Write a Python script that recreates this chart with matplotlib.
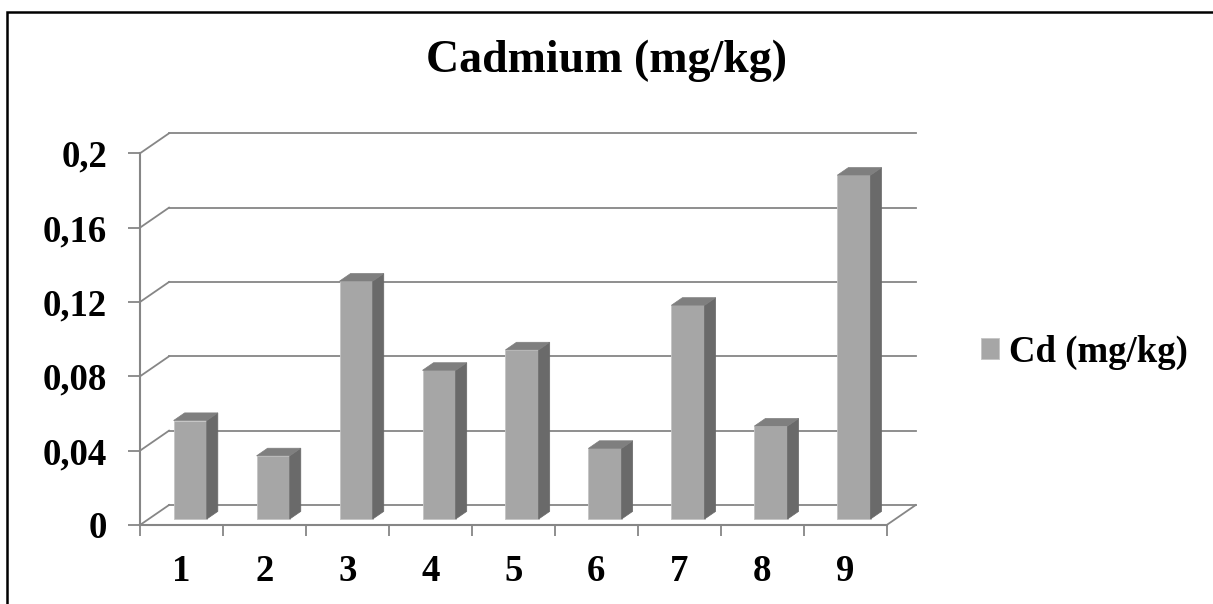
import matplotlib
matplotlib.use("Agg")
import matplotlib.pyplot as plt
from matplotlib.patches import Polygon, Rectangle

# Cadmium content per sample
samples = ["1", "2", "3", "4", "5", "6", "7", "8", "9"]
cd_values = [0.053, 0.034, 0.128, 0.080, 0.091, 0.038, 0.115, 0.050, 0.185]
y_ticks = [0, 0.04, 0.08, 0.12, 0.16, 0.2]
y_tick_labels = ["0", "0,04", "0,08", "0,12", "0,16", "0,2"]

plt.rcParams['font.family'] = ['Liberation Serif', 'DejaVu Serif']
plt.rcParams['font.weight'] = 'bold'

W, H = 1213, 604
fig = plt.figure(figsize=(W / 100, H / 100), dpi=100)
ax = fig.add_axes([140 / W, (H - 525) / H, 746.7 / W, 371.7 / H])

n = len(samples)
xs = list(range(1, n + 1))
ax.set_xlim(0.5, n + 0.5)
ax.set_ylim(0, 0.2)

# fake 3d depth offsets (categories, value units)
DX, DV = 0.35, 0.01076
grid_c = "#868686"
d0, dd = 0.3, 0.38

# back wall gridlines and left wall diagonals
for v in y_ticks:
    ax.plot([0.5 + DX, n + 0.5 + DX], [v + DV, v + DV], color=grid_c, lw=1.3,
            clip_on=False, zorder=1)
    ax.plot([0.5, 0.5 + DX], [v, v + DV], color=grid_c, lw=1.3, clip_on=False, zorder=1)
ax.plot([n + 0.5, n + 0.5 + DX], [0, DV], color=grid_c, lw=1.3, clip_on=False, zorder=1)

# bars: front faces
bx = [x + d0 * DX for x in xs]
bars = ax.bar(bx, cd_values, width=0.4, bottom=d0 * DV, color="#A6A6A6",
              edgecolor="#C4C4C4", linewidth=0.6, zorder=3, clip_on=False,
              label="Cd (mg/kg)")

# side and top faces
for x, v in zip(bx, cd_values):
    xl, xr = x - 0.2, x + 0.2
    b = d0 * DV
    ox, oy = dd * DX, dd * DV
    side = Polygon([(xr, b), (xr, b + v), (xr + ox, b + v + oy), (xr + ox, b + oy)],
                   closed=True, facecolor="#6A6A6A", edgecolor="#6A6A6A", lw=0.5,
                   zorder=3, clip_on=False)
    top = Polygon([(xl, b + v), (xr, b + v), (xr + ox, b + v + oy), (xl + ox, b + v + oy)],
                  closed=True, facecolor="#7F7F7F", edgecolor="#7F7F7F", lw=0.5,
                  zorder=3, clip_on=False)
    ax.add_patch(side)
    ax.add_patch(top)

# axes styling
for s in ["top", "right"]:
    ax.spines[s].set_visible(False)
for s in ["left", "bottom"]:
    ax.spines[s].set_color(grid_c)
    ax.spines[s].set_linewidth(1.5)
    ax.spines[s].set_zorder(4)

ax.set_yticks(y_ticks)
ax.set_yticklabels(y_tick_labels)
ax.tick_params(axis='y', length=8.5, width=1.3, color=grid_c, pad=15, labelsize=26.5)

ax.set_xticks([x + 0.5 for x in range(0, n + 1)])
ax.set_xticklabels([])
ax.set_xticks(xs, minor=True)
ax.set_xticklabels(samples, minor=True)
ax.tick_params(axis='x', which='major', length=8, width=1.3, color=grid_c)
ax.tick_params(axis='x', which='minor', length=0, pad=21, labelsize=26.5)
ax.patch.set_visible(False)

fig.text(606 / W, 1 - 72 / H, "Cadmium (mg/kg)", ha='center', va='baseline',
         fontsize=33, fontweight='bold')

fig.legend(handles=[bars], labels=["Cd (mg/kg)"], loc='center left',
           bbox_to_anchor=(981 / W, 1 - 352 / H), frameon=False, fontsize=26.5,
           handlelength=0.49, handleheight=0.49, handletextpad=0.27,
           borderpad=0, borderaxespad=0)

# outer frame
fig.patches.append(Rectangle((7 / W, -0.5), 1.5, 1 - 12 / H + 0.5, fill=False,
                             edgecolor="black", linewidth=1.8,
                             transform=fig.transFigure, figure=fig))

fig.savefig("out.png", dpi=100)
